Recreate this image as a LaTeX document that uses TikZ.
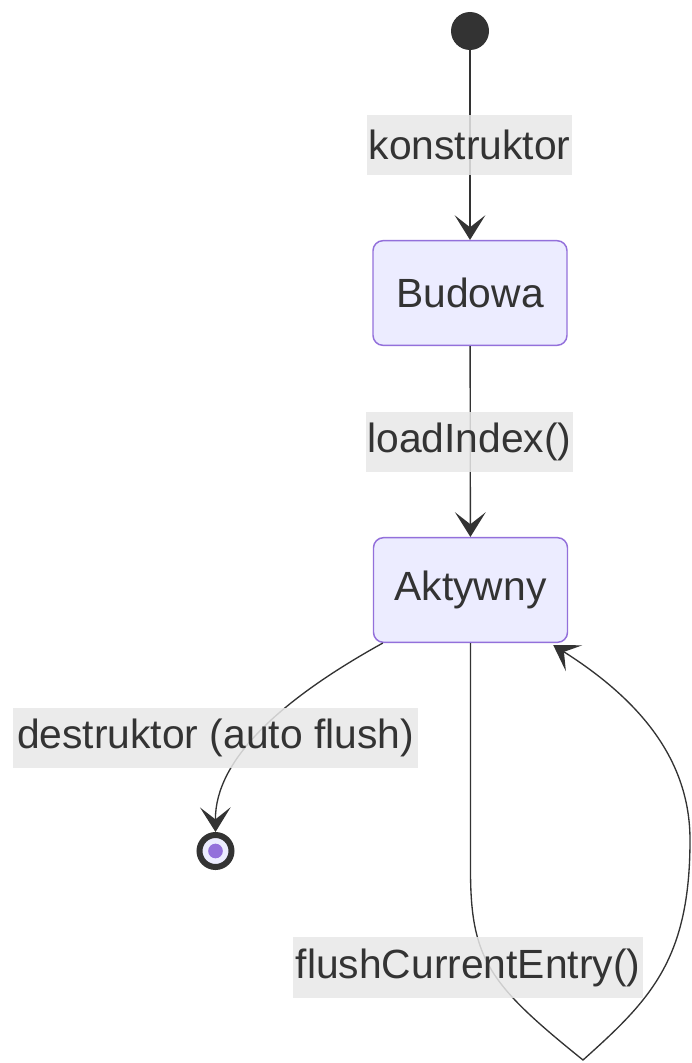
\documentclass[tikz,border=0pt]{standalone}
\usepackage{fontspec}
\setmainfont{Liberation Sans}
\usetikzlibrary{arrows.meta,calc}
\definecolor{ink}{HTML}{333333}
\definecolor{stfill}{HTML}{ECECFF}
\definecolor{stline}{HTML}{9370DB}
\definecolor{lblbg}{HTML}{E8E8E8}
\begin{document}
\begin{tikzpicture}[x=0.75pt,y=-0.75pt,
  every node/.style={font=\fontsize{30.6}{36}\selectfont, text=ink},
  statebox/.style={draw=stline, fill=stfill, line width=1.1pt, rounded corners=7.5pt,
    inner sep=0pt, minimum width=145.5pt, minimum height=78.5pt},
  edgelabel/.style={fill=lblbg, fill opacity=0.85, text opacity=1, inner sep=0pt,
    minimum height=45.5pt},
  trans/.style={draw=ink, line width=1pt,
    -{Stealth[length=18.5pt, width=23pt, inset=9pt]}}]
\useasboundingbox (0,0) rectangle (692,1063);

% states
\node[circle, fill=ink, inner sep=0pt, minimum size=28.5pt] (start) at (470,31) {};
\node[statebox] (budowa) at (470,293) {Budowa};
\node[statebox] (aktywny) at (470.5,590) {Aktywny};
\node[circle, draw=ink, line width=4.5pt, fill=stfill, inner sep=0pt, minimum size=24pt] (end) at (215.5,851) {};
\node[circle, fill=stline, inner sep=0pt, minimum size=11pt] (endcore) at (end) {};

% transitions
\draw[trans] (start) -- (budowa);
\draw[trans] (budowa) -- (aktywny);
\coordinate (dout) at ($(aktywny.south west)+(10,0)$);
\draw[trans] (dout) .. controls (280,700) and (215,760) .. (end.north);
\coordinate (lout) at (aktywny.south);
\coordinate (lin) at ($(aktywny.south east)+(-15,2)$);
\draw[trans] (lout) -- (470.5,870)
  .. controls (470.5,960) and (490,985) .. (583,1060)
  .. controls (650,1000) and (690,960) .. (690,840)
  .. controls (690,760) and (640,700) .. (lin);

% transition labels
\node[edgelabel, minimum width=153.75pt] (lkon) at (469.5,145) {konstruktor};
\node[edgelabel, minimum width=155.25pt] (lload) at (469.5,442) {loadIndex()};
\node[edgelabel, minimum width=303.75pt] (ldes) at (215.5,738) {destruktor (auto flush)};
\node[edgelabel, minimum width=262.5pt] (lflush) at (468,967.5) {flushCurrentEntry()};
\end{tikzpicture}
\end{document}
